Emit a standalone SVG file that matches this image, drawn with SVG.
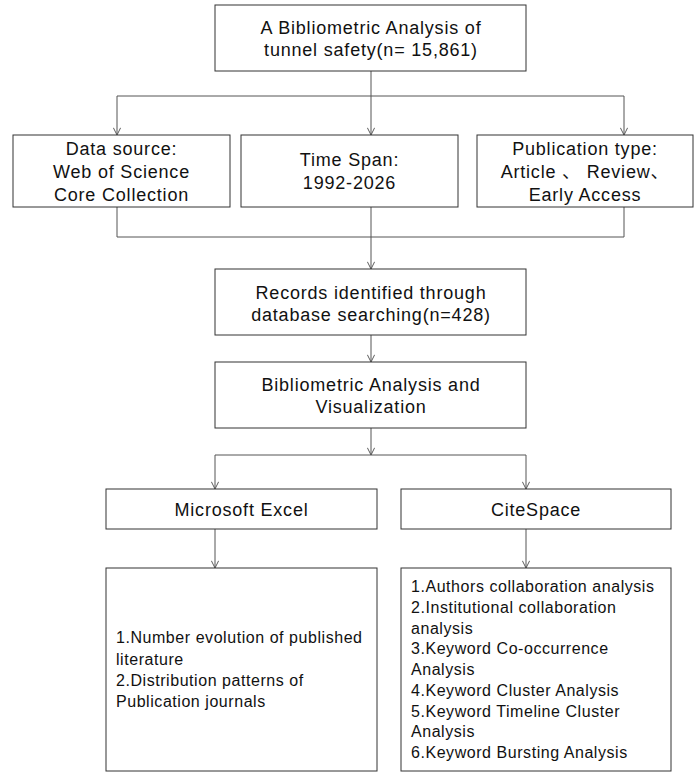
<svg xmlns="http://www.w3.org/2000/svg" width="700" height="782" viewBox="0 0 700 782">
<style>
.box{fill:#fff;stroke:#333;stroke-width:1}
.t{font-family:"Liberation Sans",Arial,"Noto Sans CJK SC",sans-serif;font-size:18px;letter-spacing:0.8px;fill:#111;text-anchor:middle}
.s{font-family:"Liberation Sans",Arial,"Noto Sans CJK SC",sans-serif;font-size:16px;letter-spacing:0.55px;fill:#111}
.c{fill:none;stroke:#555;stroke-width:1}
</style>
<defs>
<marker id="arr" viewBox="0 0 10 10" refX="10" refY="5" markerWidth="8" markerHeight="8" markerUnits="userSpaceOnUse" orient="auto">
<path d="M1,0.5 L10,5 L1,9.5" fill="none" stroke="#555" stroke-width="1.2"/>
</marker>
</defs>
<rect width="700" height="782" fill="#fff"/>
<g id="connectors">
<path class="c" d="M371,71 V96 M117,96 H624"/>
<path class="c" d="M117,96 V135" marker-end="url(#arr)"/>
<path class="c" d="M371,96 V135" marker-end="url(#arr)"/>
<path class="c" d="M624,96 V135" marker-end="url(#arr)"/>
<path class="c" d="M117,207 V237 H624 V207"/>
<path class="c" d="M371,207 V269" marker-end="url(#arr)"/>
<path class="c" d="M371,335 V362" marker-end="url(#arr)"/>
<path class="c" d="M371,428 V455" marker-end="url(#arr)"/>
<path class="c" d="M215,455 H526"/>
<path class="c" d="M215,455 V489" marker-end="url(#arr)"/>
<path class="c" d="M526,455 V489" marker-end="url(#arr)"/>
<path class="c" d="M215,529 V568" marker-end="url(#arr)"/>
<path class="c" d="M526,529 V568" marker-end="url(#arr)"/>
</g>
<g id="top">
<rect class="box" x="215" y="5" width="311" height="66"/>
<text class="t" x="371" y="34">A Bibliometric Analysis of</text>
<text class="t" x="371" y="55.5">tunnel safety(n= 15,861)</text>
</g>
<g id="datasource">
<rect class="box" x="13" y="135" width="217" height="72"/>
<text class="t" x="121.5" y="155">Data source:</text>
<text class="t" x="121.5" y="178">Web of Science</text>
<text class="t" x="121.5" y="201">Core Collection</text>
</g>
<g id="timespan">
<rect class="box" x="241" y="135" width="217" height="72"/>
<text class="t" x="349.5" y="166">Time Span:</text>
<text class="t" x="349.5" y="189">1992-2026</text>
</g>
<g id="pubtype">
<rect class="box" x="477" y="135" width="216" height="72"/>
<text class="t" x="585" y="155">Publication type:</text>
<text class="t" x="585" y="178">Article 、 Review、</text>
<text class="t" x="585" y="201">Early Access</text>
</g>
<g id="records">
<rect class="box" x="215" y="269" width="311" height="66"/>
<text class="t" x="371" y="299">Records identified through</text>
<text class="t" x="371" y="321">database searching(n=428)</text>
</g>
<g id="biblio">
<rect class="box" x="215" y="362" width="311" height="66"/>
<text class="t" x="371" y="391">Bibliometric Analysis and</text>
<text class="t" x="371" y="413">Visualization</text>
</g>
<g id="excel">
<rect class="box" x="106" y="489" width="271" height="40"/>
<text class="t" x="241.5" y="516">Microsoft Excel</text>
</g>
<g id="citespace">
<rect class="box" x="401" y="489" width="270" height="40"/>
<text class="t" x="536" y="516">CiteSpace</text>
</g>
<g id="excel-results">
<rect class="box" x="106" y="568" width="271" height="203"/>
<text class="s" x="116" y="643">1.Number evolution of published</text>
<text class="s" x="116" y="665">literature</text>
<text class="s" x="116" y="686">2.Distribution patterns of</text>
<text class="s" x="116" y="707">Publication journals</text>
</g>
<g id="citespace-results">
<rect class="box" x="401" y="568" width="270" height="203"/>
<text class="s" x="411" y="592">1.Authors collaboration analysis</text>
<text class="s" x="411" y="612.75">2.Institutional collaboration</text>
<text class="s" x="411" y="633.5">analysis</text>
<text class="s" x="411" y="654.25">3.Keyword Co-occurrence</text>
<text class="s" x="411" y="675">Analysis</text>
<text class="s" x="411" y="695.75">4.Keyword Cluster Analysis</text>
<text class="s" x="411" y="716.5">5.Keyword Timeline Cluster</text>
<text class="s" x="411" y="737.25">Analysis</text>
<text class="s" x="411" y="758">6.Keyword Bursting Analysis</text>
</g>
</svg>
